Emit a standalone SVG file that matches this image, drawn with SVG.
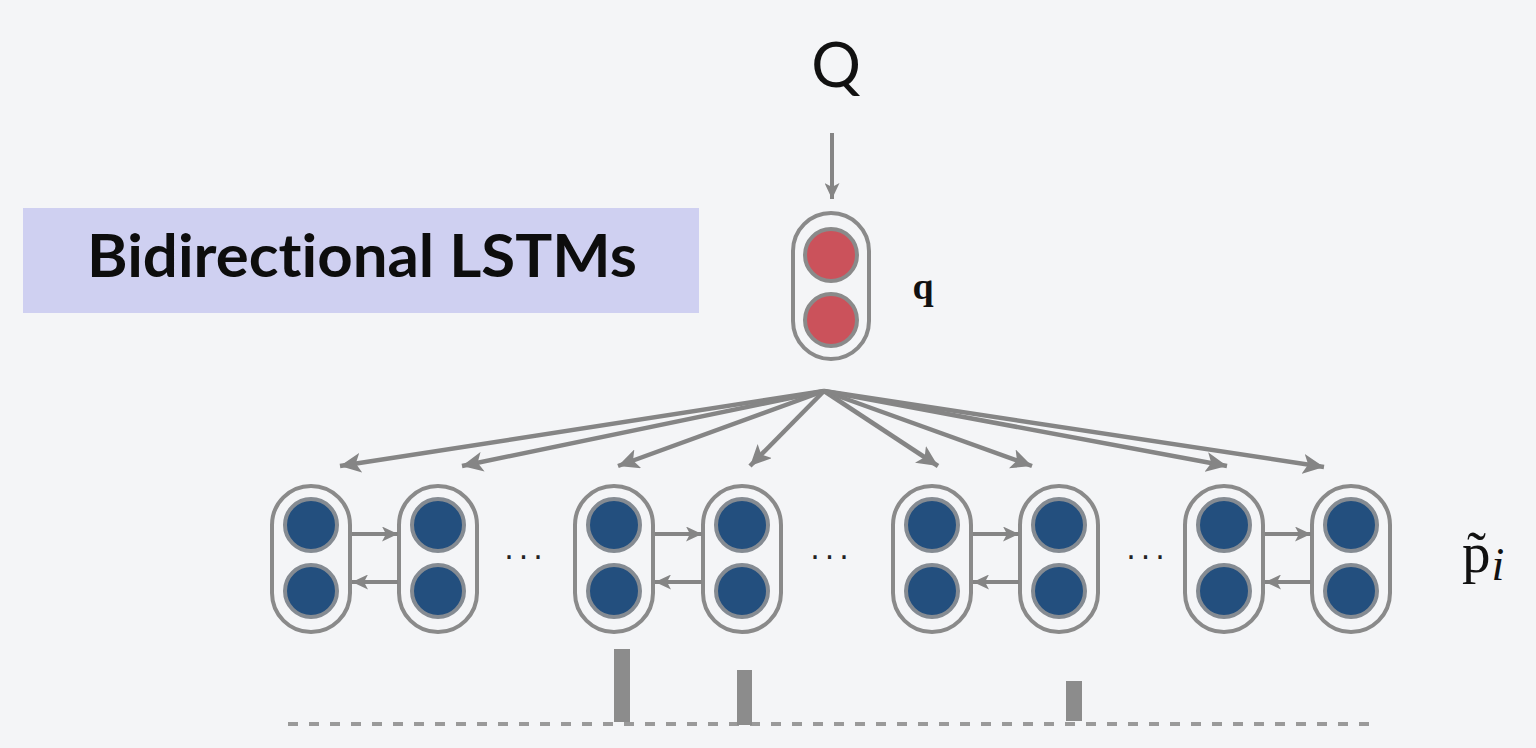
<svg xmlns="http://www.w3.org/2000/svg" width="1536" height="748" viewBox="0 0 1536 748">
<defs>
<style>
.cap{fill:none;stroke:#8a8a8a;stroke-width:4}
.blue{fill:#234f7e;stroke:#858b92;stroke-width:4}
.red{fill:#cb525b;stroke:#8a8a8a;stroke-width:4}
.edge{stroke:#858585;stroke-width:4.5;fill:none}
.thin{stroke:#858585;stroke-width:4;fill:none}
.bar{fill:#8c8c8c}
.dots{font-family:"DejaVu Sans",sans-serif;font-size:30px;fill:#222;letter-spacing:5px}
</style>
<marker id="ah" markerUnits="userSpaceOnUse" markerWidth="24" markerHeight="20" refX="21" refY="10" orient="auto">
<path d="M0,0 L21,10 L0,20 L5,10 Z" fill="#858585"/>
</marker>
<marker id="ahs" markerUnits="userSpaceOnUse" markerWidth="17" markerHeight="15" refX="16" refY="7.5" orient="auto">
<path d="M0,0 L16,7.5 L0,15 L4,7.5 Z" fill="#858585"/>
</marker>
</defs>
<rect x="0" y="0" width="1536" height="748" fill="#f4f5f7"/>

<g id="title">
<rect x="23" y="208" width="676" height="105" fill="#cfd0f1"/>
<text x="362" y="277" text-anchor="middle" font-family="Lato, 'Open Sans', sans-serif" font-weight="bold" font-size="60" fill="#0d0d0d" style="font-variant-ligatures:none" textLength="550" lengthAdjust="spacingAndGlyphs">Bidirectional LSTMs</text>
</g>

<g id="Q">
<text x="836" y="87" text-anchor="middle" font-family="Lato, 'Open Sans', sans-serif" font-size="62" fill="#111">Q</text>
</g>

<g id="q-node">
<rect class="cap" x="793" y="213" width="76" height="146" rx="38"/>
<circle class="red" cx="831" cy="255" r="26"/>
<circle class="red" cx="831" cy="320" r="26"/>
<text x="923" y="299" text-anchor="middle" font-family="'Liberation Serif', serif" font-weight="bold" font-size="38" fill="#111">q</text>
</g>

<g id="p-nodes">
<g id="p1"><rect class="cap" x="272" y="486" width="78" height="146" rx="39"/><circle class="blue" cx="311" cy="525" r="26"/><circle class="blue" cx="311" cy="591" r="26"/></g>
<g id="p2"><rect class="cap" x="399" y="486" width="78" height="146" rx="39"/><circle class="blue" cx="438" cy="525" r="26"/><circle class="blue" cx="438" cy="591" r="26"/></g>
<g id="p3"><rect class="cap" x="575" y="486" width="78" height="146" rx="39"/><circle class="blue" cx="614" cy="525" r="26"/><circle class="blue" cx="614" cy="591" r="26"/></g>
<g id="p4"><rect class="cap" x="703" y="486" width="78" height="146" rx="39"/><circle class="blue" cx="742" cy="525" r="26"/><circle class="blue" cx="742" cy="591" r="26"/></g>
<g id="p5"><rect class="cap" x="893" y="486" width="78" height="146" rx="39"/><circle class="blue" cx="932" cy="525" r="26"/><circle class="blue" cx="932" cy="591" r="26"/></g>
<g id="p6"><rect class="cap" x="1020" y="486" width="78" height="146" rx="39"/><circle class="blue" cx="1059" cy="525" r="26"/><circle class="blue" cx="1059" cy="591" r="26"/></g>
<g id="p7"><rect class="cap" x="1185" y="486" width="78" height="146" rx="39"/><circle class="blue" cx="1224" cy="525" r="26"/><circle class="blue" cx="1224" cy="591" r="26"/></g>
<g id="p8"><rect class="cap" x="1312" y="486" width="78" height="146" rx="39"/><circle class="blue" cx="1351" cy="525" r="26"/><circle class="blue" cx="1351" cy="591" r="26"/></g>
<text class="dots" x="526" y="568" text-anchor="middle">···</text>
<text class="dots" x="832" y="568" text-anchor="middle">···</text>
<text class="dots" x="1148" y="568" text-anchor="middle">···</text>
<text x="1462" y="572" font-family="'Liberation Serif', serif" font-size="57" fill="#111">p̃<tspan font-style="italic" font-size="46" dy="8" dx="1">i</tspan></text>
</g>

<g id="connectors">
<line class="thin" x1="832" y1="133" x2="832" y2="199" marker-end="url(#ahs)"/>
<line class="edge" x1="824" y1="391" x2="340" y2="466" marker-end="url(#ah)"/>
<line class="edge" x1="824" y1="391" x2="462" y2="466" marker-end="url(#ah)"/>
<line class="edge" x1="824" y1="391" x2="618" y2="466" marker-end="url(#ah)"/>
<line class="edge" x1="824" y1="391" x2="750" y2="466" marker-end="url(#ah)"/>
<line class="edge" x1="824" y1="391" x2="938" y2="466" marker-end="url(#ah)"/>
<line class="edge" x1="824" y1="391" x2="1032" y2="466" marker-end="url(#ah)"/>
<line class="edge" x1="824" y1="391" x2="1227" y2="466" marker-end="url(#ah)"/>
<line class="edge" x1="824" y1="391" x2="1324" y2="467" marker-end="url(#ah)"/>
<line class="thin" x1="352" y1="534" x2="398" y2="534" marker-end="url(#ahs)"/>
<line class="thin" x1="398" y1="582" x2="352" y2="582" marker-end="url(#ahs)"/>
<line class="thin" x1="655" y1="534" x2="702" y2="534" marker-end="url(#ahs)"/>
<line class="thin" x1="702" y1="582" x2="655" y2="582" marker-end="url(#ahs)"/>
<line class="thin" x1="973" y1="534" x2="1019" y2="534" marker-end="url(#ahs)"/>
<line class="thin" x1="1019" y1="582" x2="973" y2="582" marker-end="url(#ahs)"/>
<line class="thin" x1="1265" y1="534" x2="1311" y2="534" marker-end="url(#ahs)"/>
<line class="thin" x1="1311" y1="582" x2="1265" y2="582" marker-end="url(#ahs)"/>
</g>

<g id="attention">
<line x1="288" y1="724" x2="1372" y2="724" stroke="#9a9a9a" stroke-width="4" stroke-dasharray="10 11"/>
<rect class="bar" x="614" y="649" width="16" height="73"/>
<rect class="bar" x="737" y="670" width="15" height="55"/>
<rect class="bar" x="1066" y="681" width="16" height="40"/>
</g>
</svg>
